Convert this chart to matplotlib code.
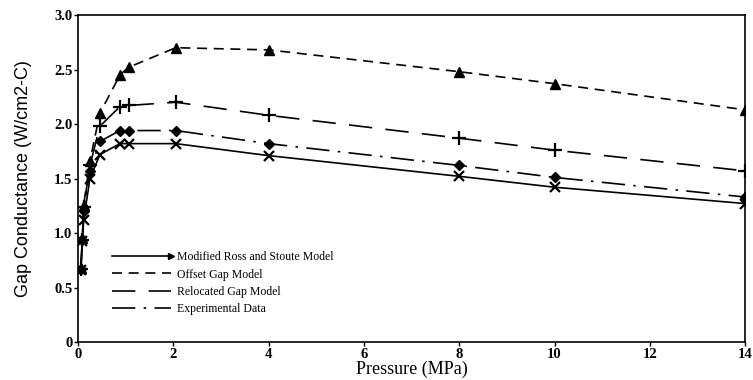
import matplotlib.pyplot as plt
from matplotlib.lines import Line2D

# pressure (MPa) shared by all curves
pressure = [0.06, 0.09, 0.12, 0.25, 0.46, 0.88, 1.06, 2.05, 4, 8, 10, 14]

# gap conductance (W/cm2-C)
ross_stoute = [0.66, 0.93, 1.12, 1.50, 1.72, 1.82, 1.82, 1.82, 1.71, 1.52, 1.42, 1.27]
offset_gap = [0.68, 0.95, 1.26, 1.66, 2.10, 2.45, 2.52, 2.70, 2.68, 2.48, 2.37, 2.13]
relocated_gap = [0.67, 0.94, 1.24, 1.62, 1.98, 2.16, 2.17, 2.20, 2.08, 1.87, 1.76, 1.57]
experimental = [0.67, 0.94, 1.20, 1.57, 1.84, 1.94, 1.94, 1.94, 1.82, 1.62, 1.51, 1.33]

labels = ['Modified Ross and Stoute Model', 'Offset Gap Model',
          'Relocated Gap Model', 'Experimental Data']
xticks = [0, 2, 4, 6, 8, 10, 12, 14]
yticks = [0, 0.5, 1.0, 1.5, 2.0, 2.5, 3.0]
ytick_labels = ['0', '0.5', '1.0', '1.5', '2.0', '2.5', '3.0']

serif = 'Liberation Serif'

fig = plt.figure(figsize=(7.53, 3.80), dpi=100)
ax = fig.add_axes([0.1036, 0.10, 0.886, 0.8605])

lw = 1.2
dash_short = (0, (6, 4))
dash_long = (0, (14, 8))
dash_dot = (0, (14, 5, 1.5, 5))
ax.plot(pressure, ross_stoute, color='k', lw=lw, ls='-', marker='x',
        ms=7, mew=1.6)
ax.plot(pressure, offset_gap, color='k', lw=lw, ls=dash_short, marker='^',
        ms=6.5)
ax.plot(pressure, relocated_gap, color='k', lw=lw, ls=dash_long, marker='+',
        ms=10, mew=1.6)
ax.plot(pressure, experimental, color='k', lw=lw, ls=dash_dot,
        marker='D', ms=5)

handles = [
    Line2D([], [], color='k', lw=lw, ls='-', marker='>', ms=5),
    Line2D([], [], color='k', lw=lw, ls=dash_short),
    Line2D([], [], color='k', lw=lw, ls=dash_long),
    Line2D([], [], color='k', lw=lw, ls=dash_dot),
]
leg = ax.legend(handles, labels, loc='upper left', bbox_to_anchor=(0.035, 0.31),
                frameon=False, handlelength=5.0, handletextpad=0.5,
                labelspacing=0.45, numpoints=1,
                prop={'family': serif, 'size': 8.5})
# arrow-like marker only at the right end of the first legend line
leg.get_lines()[0].set_markevery([2])

ax.set_xlim(0, 14)
ax.set_ylim(0, 3.0)
ax.set_xticks(xticks)
ax.set_yticks(yticks)
ax.set_yticklabels(ytick_labels)
for t in ax.get_xticklabels() + ax.get_yticklabels():
    t.set_fontfamily(serif)
    t.set_fontweight('bold')
    t.set_fontsize(10.5)
ax.tick_params(direction='out', length=3, width=1, pad=1)

for s in ax.spines.values():
    s.set_linewidth(1.2)

ax.set_xlabel('Pressure (MPa)', fontfamily=serif, fontsize=13, labelpad=0)
ax.set_ylabel('Gap Conductance (W/cm2-C)', fontfamily='Liberation Sans',
              fontsize=13, labelpad=16)

fig.savefig('out.png', dpi=100)
